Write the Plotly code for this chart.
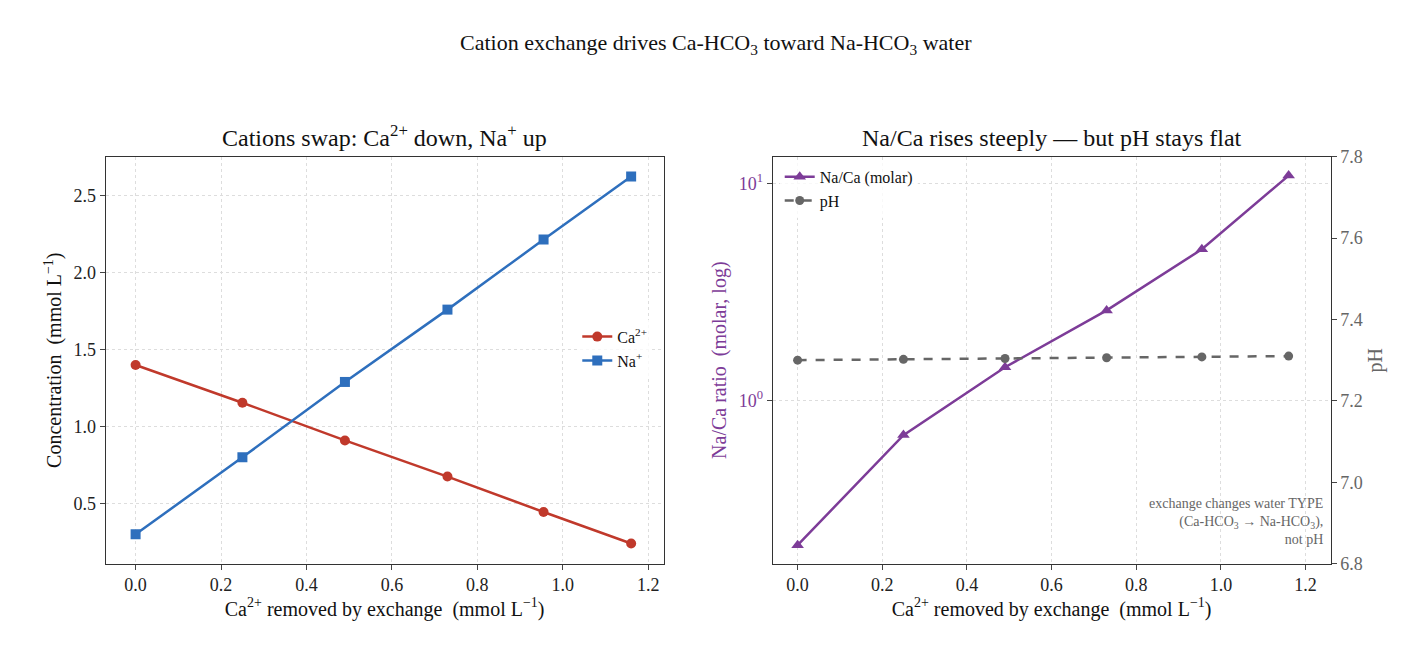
import plotly.graph_objects as go

# data
ca_removed = [0.0, 0.25, 0.49, 0.73, 0.955, 1.16]
ca_conc = [1.40, 1.155, 0.91, 0.675, 0.445, 0.24]
na_conc = [0.30, 0.80, 1.29, 1.76, 2.215, 2.625]
na_ca_ratio = [0.214, 0.69, 1.42, 2.60, 4.98, 10.9]
ph_values = [7.300, 7.302, 7.304, 7.306, 7.308, 7.310]

RED = '#c0392b'
BLUE = '#2e6fbd'
PURPLE = '#7d3c98'
GREY = '#666666'
FONT = 'Liberation Serif'

fig = go.Figure()

fig.add_trace(go.Scatter(x=ca_removed, y=ca_conc, mode='lines+markers', name='Ca<sup>2+</sup>',
                         line=dict(color=RED, width=2.5), marker=dict(symbol='circle', size=10),
                         xaxis='x', yaxis='y', legend='legend'))
fig.add_trace(go.Scatter(x=ca_removed, y=na_conc, mode='lines+markers', name='Na<sup>+</sup>',
                         line=dict(color=BLUE, width=2.5), marker=dict(symbol='square', size=10),
                         xaxis='x', yaxis='y', legend='legend'))
fig.add_trace(go.Scatter(x=ca_removed, y=na_ca_ratio, mode='lines+markers', name='Na/Ca (molar)',
                         line=dict(color=PURPLE, width=2.5), marker=dict(symbol='triangle-up', size=11),
                         xaxis='x2', yaxis='y2', legend='legend2'))
fig.add_trace(go.Scatter(x=ca_removed, y=ph_values, mode='lines+markers', name='pH',
                         line=dict(color=GREY, width=2.5, dash='dash'), marker=dict(symbol='circle', size=9),
                         xaxis='x2', yaxis='y3', legend='legend2'))

axis_common = dict(showline=True, linecolor='#333333', linewidth=1, ticks='outside', ticklen=5,
                   showgrid=True, gridcolor='#dddddd', griddash='dot', zeroline=False,
                   tickfont=dict(size=18, color='#222'))

ytop = 0.782
fig.update_layout(
    width=1416, height=656,
    margin=dict(l=0, r=0, t=0, b=0),
    plot_bgcolor='white', paper_bgcolor='white',
    font=dict(family=FONT, color='#111'),
    xaxis=dict(axis_common, domain=[0.069, 0.463], range=[-0.070, 1.236], mirror=True,
               dtick=0.2, tickformat='.1f', anchor='y',
               title=dict(text='Ca<sup>2+</sup> removed by exchange  (mmol L<sup>−1</sup>)', font=dict(size=20), standoff=6)),
    yaxis=dict(axis_common, domain=[0.142, ytop], range=[0.109, 2.754], mirror=True,
               dtick=0.5, tickformat='.1f', anchor='x',
               title=dict(text='Concentration  (mmol L<sup>−1</sup>)', font=dict(size=20), standoff=6)),
    xaxis2=dict(axis_common, domain=[0.540, 0.934], range=[-0.059, 1.259], mirror=True,
                dtick=0.2, tickformat='.1f', anchor='y2',
                title=dict(text='Ca<sup>2+</sup> removed by exchange  (mmol L<sup>−1</sup>)', font=dict(size=20), standoff=6)),
    yaxis2=dict(axis_common, domain=[0.142, ytop], type='log', range=[-0.755, 1.125], anchor='x2',
                tickvals=[1, 10], ticktext=['10<sup>0</sup>', '10<sup>1</sup>'],
                tickfont=dict(size=18, color=PURPLE),
                title=dict(text='Na/Ca ratio  (molar, log)', font=dict(size=20, color=PURPLE), standoff=6)),
    yaxis3=dict(axis_common, overlaying='y2', side='right', anchor='x2', range=[6.8, 7.8], dtick=0.2,
                tickformat='.1f', showgrid=False, tickfont=dict(size=18, color=GREY),
                title=dict(text='pH', font=dict(size=20, color=GREY), standoff=6)),
    legend=dict(x=0.455, y=0.48, xanchor='right', yanchor='middle', bgcolor='rgba(255,255,255,0.8)',
                font=dict(size=16)),
    legend2=dict(x=0.545, y=ytop - 0.005, xanchor='left', yanchor='top', bgcolor='rgba(255,255,255,0.8)',
                 font=dict(size=16)),
    showlegend=True,
    annotations=[
        dict(text='Cation exchange drives Ca-HCO<sub>3</sub> toward Na-HCO<sub>3</sub> water',
             xref='paper', yref='paper', x=0.5, xanchor='center', y=0.985, yanchor='top',
             showarrow=False, font=dict(size=22)),
        dict(text='Cations swap: Ca<sup>2+</sup> down, Na<sup>+</sup> up', xref='paper', yref='paper',
             x=0.266, xanchor='center', y=ytop + 0.005, yanchor='bottom', showarrow=False, font=dict(size=24)),
        dict(text='Na/Ca rises steeply — but pH stays flat', xref='paper', yref='paper',
             x=0.737, xanchor='center', y=ytop + 0.005, yanchor='bottom', showarrow=False, font=dict(size=24)),
        dict(text='exchange changes water TYPE<br>(Ca-HCO<sub>3</sub> → Na-HCO<sub>3</sub>),<br>not pH',
             xref='paper', yref='paper', x=0.930, y=0.165, xanchor='right', yanchor='bottom',
             align='right', showarrow=False, font=dict(size=14, color=GREY)),
    ],
)

fig.write_html('out.html')
